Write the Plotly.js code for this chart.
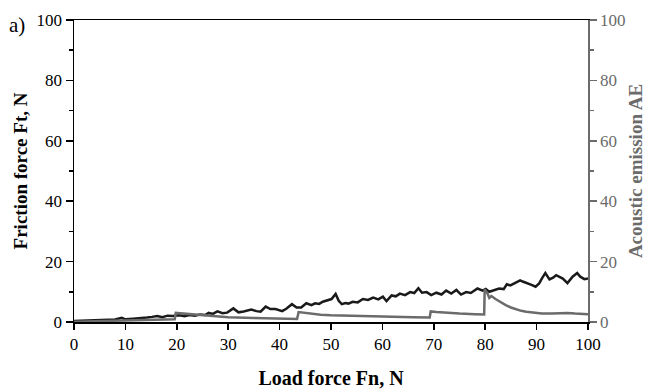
<!DOCTYPE html>
<html>
<head>
<meta charset="utf-8">
<script src="https://cdn.plot.ly/plotly-3.0.1.min.js"></script>
<style>html,body{margin:0;padding:0;background:#fff;}#chart{width:650px;height:390px;}</style>
</head>
<body>
<div id="chart"></div>
<script>
// Friction force (black, left axis)
const frictionX = [0,2,4,6,8,9.3,10,11.5,13,14.2,15.2,16.2,17.2,18.2,19.2,20.5,21.5,22.5,23.5,24.5,25.5,26.2,27,27.9,28.9,29.8,31,32,33,33.7,34.5,35.5,36.3,37.3,38.2,39.2,40.5,41.3,42.4,43.3,44.2,45.2,46.2,46.9,47.7,48.4,49.3,50.1,50.9,51.5,52.1,52.8,53.4,54.2,55.2,56.2,57.2,58.2,59.2,60.1,60.8,61.8,62.6,63.4,64.4,65.4,66.2,67,67.7,68.6,69.5,70.5,71.5,72.4,73.4,74.4,75.3,76.3,77.2,78.5,79.5,80.1,80.8,81.7,82.7,83.6,84.2,84.9,85.8,86.8,87.3,88.2,89,89.8,90.5,91.1,91.7,92.5,93.2,93.8,94.5,95.1,96,96.5,97,97.9,98.5,99.3,100];
const frictionY = [0.3,0.4,0.5,0.7,0.8,1.4,0.9,1.1,1.2,1.5,1.7,2.0,1.6,2.1,2.0,2.2,1.9,2.3,2.1,2.5,2.3,3.0,2.7,3.5,2.9,3.1,4.5,3.2,3.5,3.8,4.1,3.6,3.4,5.1,4.3,4.3,3.6,4.4,5.9,4.8,4.8,6.2,5.6,6.2,6.0,6.7,7.1,7.6,9.3,7.0,5.9,6.3,6.1,6.7,6.5,7.6,7.3,8.1,7.5,8.4,6.9,8.8,8.5,9.4,8.9,9.9,9.6,11.2,9.7,9.9,8.9,9.7,9.1,10.4,9.4,10.6,9.1,9.9,9.6,11.1,10.4,10.9,10.0,10.6,11.1,10.9,12.5,12.1,13.0,13.8,13.4,12.9,12.3,11.7,12.8,14.6,16.2,14.1,14.7,15.5,14.9,14.4,12.9,14.1,15.0,16.2,15.0,14.2,14.4];
// Acoustic emission (gray, right axis)
const aeX = [0,5,10,15,19.6,19.8,20.5,22,25,30,35,40,43.4,43.7,44.5,46,48,50,54,58,62,66,69.2,69.4,70.5,72,75,78,79.8,79.9,80.4,80.8,81.2,82,83,84,85,86,87,88,89.5,91,93,95,96,97.5,100];
const aeY = [0.1,0.3,0.5,0.7,0.9,3.0,2.9,2.5,2.1,1.6,1.3,1.1,1.0,3.3,3.1,2.7,2.4,2.2,2.0,1.8,1.7,1.6,1.5,3.5,3.3,3.1,2.8,2.6,2.5,10.8,9.6,8.0,8.6,7.6,6.5,5.6,4.8,4.2,3.7,3.4,3.0,2.8,2.8,3.0,3.0,2.8,2.6];
const xTickVals = [0,10,20,30,40,50,60,70,80,90,100];
const yTickVals = [0,20,40,60,80,100];

const serif = "Liberation Serif, Times New Roman, serif";
const gray = "#6b6b6b";

const traces = [
  {x: aeX, y: aeY, yaxis: 'y2', type: 'scatter', mode: 'lines', line: {color: gray, width: 2.5}, hoverinfo: 'skip'},
  {x: frictionX, y: frictionY, type: 'scatter', mode: 'lines', line: {color: '#1a1a1a', width: 2.5}, hoverinfo: 'skip'}
];

const layout = {
  width: 650, height: 390,
  margin: {l: 74, r: 62, t: 20, b: 68},
  paper_bgcolor: '#fff', plot_bgcolor: '#fff',
  showlegend: false,
  font: {family: serif, size: 17, color: '#000'},
  xaxis: {
    range: [0, 100], tickvals: xTickVals, ticks: 'outside', ticklen: 6, tickwidth: 1.5, tickcolor: '#000',
    showline: true, linecolor: '#000', linewidth: 1.5, mirror: true,
    showgrid: false, zeroline: false, tickfont: {family: serif, size: 17, color: '#000'},
    title: {text: '<b>Load force Fn, N</b>', font: {family: serif, size: 20, color: '#000'}, standoff: 18}
  },
  yaxis: {
    range: [0, 100], tickvals: yTickVals, ticks: 'outside', ticklen: 7, tickwidth: 1.5, tickcolor: '#000',
    minor: {dtick: 10, ticks: 'outside', ticklen: 4, tickwidth: 1.5, tickcolor: '#000', showgrid: false},
    showline: true, linecolor: '#000', linewidth: 1.5,
    showgrid: false, zeroline: false, tickfont: {family: serif, size: 17, color: '#000'},
    title: {text: '<b>Friction force Ft, N</b>', font: {family: serif, size: 19, color: '#000'}, standoff: 4}
  },
  yaxis2: {
    overlaying: 'y', side: 'right', range: [0, 100], tickvals: yTickVals,
    ticks: 'outside', ticklen: 7, tickwidth: 1.5, tickcolor: gray,
    minor: {dtick: 10, ticks: 'outside', ticklen: 4, tickwidth: 1.5, tickcolor: gray, showgrid: false},
    showline: true, linecolor: gray, linewidth: 1.5,
    showgrid: false, zeroline: false, tickfont: {family: serif, size: 17, color: gray},
    title: {text: '<b>Acoustic emission AE</b>', font: {family: serif, size: 19, color: gray}, standoff: 4}
  },
  annotations: [{
    text: 'a)', xref: 'paper', yref: 'paper', x: -0.13, y: 0.985, xanchor: 'left', yanchor: 'middle',
    showarrow: false, font: {family: serif, size: 21, color: '#000'}
  }]
};

Plotly.newPlot('chart', traces, layout, {staticPlot: true, displayModeBar: false});
</script>
</body>
</html>
